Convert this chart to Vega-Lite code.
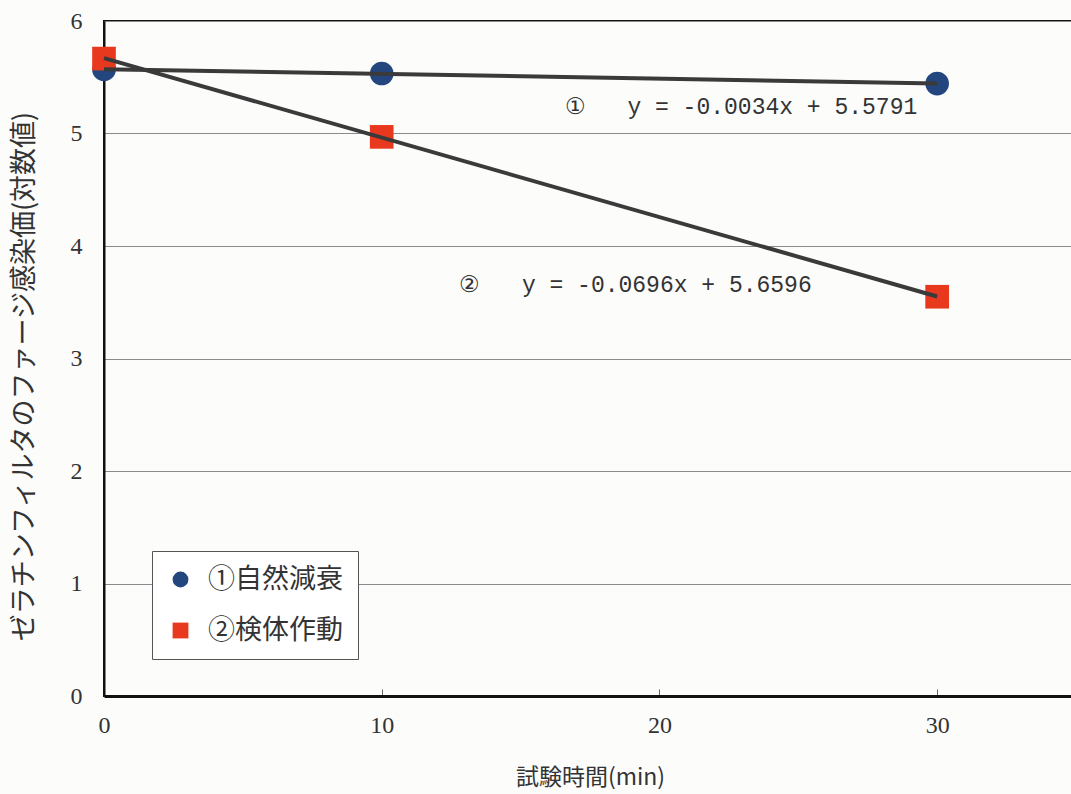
{
  "$schema": "https://vega.github.io/schema/vega-lite/v6.json",
  "width": 972,
  "height": 675,
  "autosize": {"type": "none"},
  "padding": {"left": 104, "top": 21, "right": 0, "bottom": 98},
  "background": "#fcfcfb",
  "config": {
    "view": {"stroke": "#111111", "strokeWidth": 2},
    "font": "Noto Sans CJK JP"
  },
  "data": {
    "values": [
      {"series": "①自然減衰", "x": 0, "y": 5.57},
      {"series": "①自然減衰", "x": 10, "y": 5.533},
      {"series": "①自然減衰", "x": 30, "y": 5.444},
      {"series": "②検体作動", "x": 0, "y": 5.666},
      {"series": "②検体作動", "x": 10, "y": 4.97},
      {"series": "②検体作動", "x": 30, "y": 3.549}
    ]
  },
  "encoding": {
    "x": {
      "field": "x",
      "type": "quantitative",
      "scale": {"domain": [0, 35], "nice": false},
      "axis": {
        "title": "試験時間(min)",
        "values": [0, 10, 20, 30],
        "grid": false,
        "domainColor": "#111111",
        "domainWidth": 3,
        "ticks": true,
        "tickSize": -7,
        "tickColor": "#666666",
        "labelFlush": false,
        "labelFont": "Liberation Serif",
        "labelFontSize": 24,
        "labelColor": "#333333",
        "labelPadding": 24,
        "titleFont": "Noto Sans CJK JP",
        "titleFontSize": 23,
        "titleFontWeight": "normal",
        "titleColor": "#333333",
        "titlePadding": 29
      }
    },
    "y": {
      "field": "y",
      "type": "quantitative",
      "scale": {"domain": [0, 6], "nice": false},
      "axis": {
        "title": "ゼラチンフィルタのファージ感染価(対数値)",
        "values": [0, 1, 2, 3, 4, 5, 6],
        "grid": true,
        "gridColor": "#8a8a8a",
        "gridWidth": 1,
        "domainColor": "#111111",
        "domainWidth": 2,
        "ticks": false,
        "labelFont": "Liberation Serif",
        "labelFontSize": 24,
        "labelColor": "#333333",
        "labelPadding": 22,
        "titleFont": "Noto Sans CJK JP",
        "titleFontSize": 27,
        "titleFontWeight": "normal",
        "titleColor": "#333333",
        "titlePadding": 32,
        "titleY": 355
      }
    }
  },
  "layer": [
    {
      "mark": {"type": "point", "filled": true, "opacity": 1},
      "encoding": {
        "color": {
          "field": "series",
          "type": "nominal",
          "scale": {"domain": ["①自然減衰", "②検体作動"], "range": ["#23467f", "#e8391f"]},
          "legend": {
            "title": null,
            "orient": "none",
            "legendX": 48,
            "legendY": 530,
            "strokeColor": "#555555",
            "fillColor": "#ffffff",
            "padding": 15,
            "rowPadding": 23,
            "labelFont": "Noto Sans CJK JP",
            "labelFontSize": 27,
            "labelColor": "#333333",
            "labelOffset": 14,
            "symbolSize": 250,
            "symbolStrokeWidth": 0
          }
        },
        "shape": {
          "field": "series",
          "type": "nominal",
          "scale": {"domain": ["①自然減衰", "②検体作動"], "range": ["circle", "square"]},
          "legend": null
        },
        "size": {"value": 560}
      }
    },
    {
      "transform": [
        {"regression": "y", "on": "x", "groupby": ["series"], "extent": [0, 30]}
      ],
      "mark": {"type": "line", "color": "#3a3a3a", "strokeWidth": 4},
      "encoding": {
        "detail": {"field": "series", "type": "nominal"}
      }
    },
    {
      "data": {
        "values": [
          {"x": 16.6, "y": 5.233, "label": "①\u00a0\u00a0 y = -0.0034x + 5.5791"},
          {"x": 12.8, "y": 3.654, "label": "②\u00a0\u00a0 y = -0.0696x + 5.6596"}
        ]
      },
      "mark": {
        "type": "text",
        "align": "left",
        "baseline": "middle",
        "font": "Liberation Mono",
        "fontSize": 23,
        "color": "#333333"
      },
      "encoding": {
        "text": {"field": "label", "type": "nominal"}
      }
    }
  ]
}
